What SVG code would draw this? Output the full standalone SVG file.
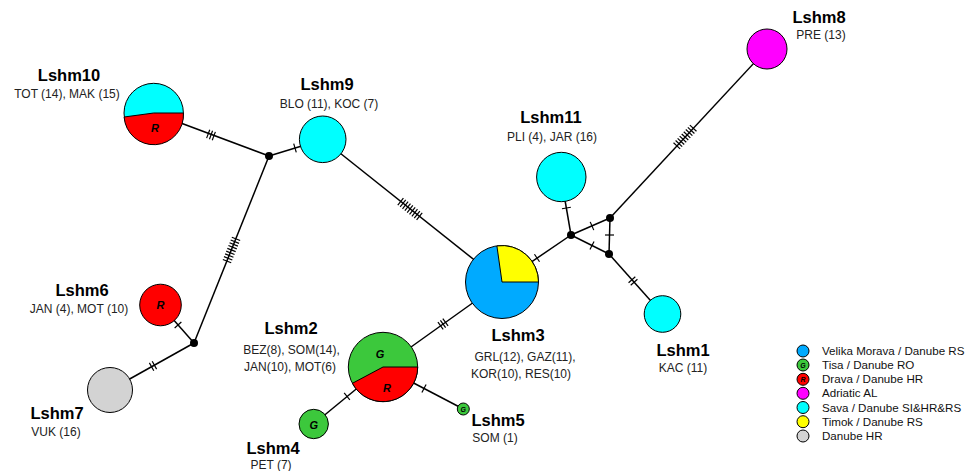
<svg xmlns="http://www.w3.org/2000/svg" width="975" height="471" viewBox="0 0 975 471">
<style>
.bg{fill:#ffffff}
.ln{stroke:#000;stroke-width:1.5;fill:none}
.hk line{stroke:#000;stroke-width:1.2}
.nd{stroke:#000;stroke-width:1}
.jn{fill:#000}
.t{font-family:"Liberation Sans",Arial,sans-serif;font-size:16.5px;font-weight:bold;fill:#000;text-anchor:middle}
.s{font-family:"Liberation Sans",Arial,sans-serif;font-size:12px;fill:#222;text-anchor:middle}
.l{font-family:"Liberation Sans",Arial,sans-serif;font-size:11.6px;fill:#111}
.k{font-family:"Liberation Sans",Arial,sans-serif;font-size:11px;font-weight:bold;font-style:italic;fill:#000;text-anchor:middle}
.ks{font-family:"Liberation Sans",Arial,sans-serif;font-size:7px;font-weight:bold;font-style:italic;fill:#000;text-anchor:middle}
.blue{fill:#00aaff}.green{fill:#3cc83c}.red{fill:#ff0000}.mag{fill:#ff00ff}.cyan{fill:#00ffff}.yel{fill:#ffff00}.gray{fill:#d3d3d3}
</style>
<defs>
<g id="h1" class="hk"><line x1="0" y1="-4.5" x2="0" y2="4.5"/></g>
<g id="h2" class="hk"><line x1="-1.6" y1="-4.5" x2="-1.6" y2="4.5"/><line x1="1.6" y1="-4.5" x2="1.6" y2="4.5"/></g>
<g id="h3" class="hk"><line x1="-3" y1="-4.5" x2="-3" y2="4.5"/><line x1="0" y1="-4.5" x2="0" y2="4.5"/><line x1="3" y1="-4.5" x2="3" y2="4.5"/></g>
<g id="h9" class="hk"><line x1="-12" y1="-4.5" x2="-12" y2="4.5"/><line x1="-9" y1="-4.5" x2="-9" y2="4.5"/><line x1="-6" y1="-4.5" x2="-6" y2="4.5"/><line x1="-3" y1="-4.5" x2="-3" y2="4.5"/><line x1="0" y1="-4.5" x2="0" y2="4.5"/><line x1="3" y1="-4.5" x2="3" y2="4.5"/><line x1="6" y1="-4.5" x2="6" y2="4.5"/><line x1="9" y1="-4.5" x2="9" y2="4.5"/><line x1="12" y1="-4.5" x2="12" y2="4.5"/></g>
</defs>
<rect class="bg" x="0" y="0" width="975" height="471"/>
<g id="connectors">
<line class="ln" x1="154" y1="113" x2="269" y2="156"/>
<use href="#h3" transform="translate(211,135) rotate(20.5)"/>
<line class="ln" x1="269" y1="156" x2="323" y2="139.5"/>
<use href="#h1" transform="translate(295,148) rotate(-16.5)"/>
<line class="ln" x1="269" y1="156" x2="194" y2="343"/>
<use href="#h9" transform="translate(231.5,250) rotate(111.9)"/>
<line class="ln" x1="323" y1="139.5" x2="502" y2="282"/>
<use href="#h9" transform="translate(410,209) rotate(38.4)"/>
<line class="ln" x1="502" y1="282" x2="571" y2="235"/>
<use href="#h1" transform="translate(537,258) rotate(-34.3)"/>
<line class="ln" x1="571" y1="235" x2="561" y2="177"/>
<use href="#h1" transform="translate(566.4,208) rotate(80.2)"/>
<line class="ln" x1="571" y1="235" x2="610" y2="218"/>
<use href="#h1" transform="translate(592,226) rotate(-23.6)"/>
<line class="ln" x1="571" y1="235" x2="609" y2="254"/>
<use href="#h1" transform="translate(592,245.5) rotate(26.6)"/>
<line class="ln" x1="610" y1="218" x2="609" y2="254"/>
<use href="#h1" transform="translate(609.5,235) rotate(90)"/>
<line class="ln" x1="609" y1="254" x2="662.5" y2="314"/>
<use href="#h2" transform="translate(633,281) rotate(48.5)"/>
<line class="ln" x1="610" y1="218" x2="767" y2="49"/>
<use href="#h9" transform="translate(685,137) rotate(-47.1)"/>
<line class="ln" x1="194" y1="343" x2="160.5" y2="305"/>
<use href="#h1" transform="translate(178,325) rotate(48.2)"/>
<line class="ln" x1="194" y1="343" x2="110" y2="390"/>
<use href="#h2" transform="translate(153,366) rotate(-29.2)"/>
<line class="ln" x1="383" y1="367" x2="502" y2="282"/>
<use href="#h3" transform="translate(443,324) rotate(-35.5)"/>
<line class="ln" x1="383" y1="367" x2="313.7" y2="424"/>
<use href="#h1" transform="translate(347,396.3) rotate(-39.2)"/>
<line class="ln" x1="383" y1="367" x2="463.3" y2="409"/>
<use href="#h1" transform="translate(424,388.5) rotate(27.7)"/>
</g>
<g id="junctions">
<circle class="jn" cx="269" cy="156" r="4"/>
<circle class="jn" cx="194" cy="343" r="4"/>
<circle class="jn" cx="571" cy="235" r="4"/>
<circle class="jn" cx="610" cy="218" r="4"/>
<circle class="jn" cx="609" cy="254" r="4"/>
</g>
<g id="Lshm10">
<circle class="nd cyan" cx="153.7" cy="113" r="29.7"/>
<path class="nd red" d="M153.7,113 L183.4,113 A29.7,29.7 0 0 1 124.1,117 Z"/>
<text class="k" x="155" y="132">R</text>
<text class="t" x="69" y="81">Lshm10</text>
<text class="s" x="67" y="98">TOT (14), MAK (15)</text>
</g>
<g id="Lshm9">
<circle class="nd cyan" cx="322.7" cy="139.3" r="23.3"/>
<text class="t" x="327" y="90">Lshm9</text>
<text class="s" x="329" y="108">BLO (11), KOC (7)</text>
</g>
<g id="Lshm11">
<circle class="nd cyan" cx="561.3" cy="177" r="24.7"/>
<text class="t" x="551" y="123">Lshm11</text>
<text class="s" x="552" y="141">PLI (4), JAR (16)</text>
</g>
<g id="Lshm8">
<circle class="nd mag" cx="767" cy="49" r="20"/>
<text class="t" x="819" y="23">Lshm8</text>
<text class="s" x="821" y="39">PRE (13)</text>
</g>
<g id="Lshm3">
<circle class="nd blue" cx="502" cy="282" r="36.5"/>
<path class="nd yel" d="M502,282 L538.5,282 A36.5,36.5 0 0 0 496.9,245.9 Z"/>
<text class="t" x="518" y="341">Lshm3</text>
<text class="s" x="525" y="361">GRL(12), GAZ(11),</text>
<text class="s" x="521" y="378">KOR(10), RES(10)</text>
</g>
<g id="Lshm1">
<circle class="nd cyan" cx="662.5" cy="314" r="18.3"/>
<text class="t" x="683" y="356">Lshm1</text>
<text class="s" x="683" y="372">KAC (11)</text>
</g>
<g id="Lshm6">
<circle class="nd red" cx="160.5" cy="305" r="20.8"/>
<text class="k" x="160.5" y="309">R</text>
<text class="t" x="82" y="296">Lshm6</text>
<text class="s" x="79" y="313">JAN (4), MOT (10)</text>
</g>
<g id="Lshm7">
<circle class="nd gray" cx="110" cy="390" r="22.5"/>
<text class="t" x="57" y="419">Lshm7</text>
<text class="s" x="56" y="436">VUK (16)</text>
</g>
<g id="Lshm2">
<circle class="nd green" cx="383" cy="367" r="34.7"/>
<path class="nd red" d="M383,367 L417.7,367 A34.7,34.7 0 0 1 352.4,383.3 Z"/>
<text class="k" x="380" y="358">G</text>
<text class="k" x="387" y="392">R</text>
<text class="t" x="291" y="334">Lshm2</text>
<text class="s" x="291.5" y="354">BEZ(8), SOM(14),</text>
<text class="s" x="290" y="371">JAN(10), MOT(6)</text>
</g>
<g id="Lshm4">
<circle class="nd green" cx="313.7" cy="424" r="14.7"/>
<text class="k" x="313.7" y="429">G</text>
<text class="t" x="273" y="454">Lshm4</text>
<text class="s" x="271" y="469">PET (7)</text>
</g>
<g id="Lshm5">
<circle class="nd green" cx="463.3" cy="409" r="6"/>
<text class="ks" x="463.3" y="411.5">G</text>
<text class="t" x="498" y="426">Lshm5</text>
<text class="s" x="495" y="442">SOM (1)</text>
</g>
<g id="legend">
<circle class="nd blue" cx="803" cy="351" r="6"/>
<text class="l" x="822" y="355">Velika Morava / Danube RS</text>
<circle class="nd green" cx="803" cy="365" r="6"/>
<text class="ks" x="803" y="367.5">G</text>
<text class="l" x="822" y="369">Tisa / Danube RO</text>
<circle class="nd red" cx="803" cy="379.3" r="6"/>
<text class="ks" x="803" y="381.8">R</text>
<text class="l" x="822" y="383.3">Drava / Danube HR</text>
<circle class="nd mag" cx="803" cy="393.3" r="6"/>
<text class="l" x="822" y="397.3">Adriatic AL</text>
<circle class="nd cyan" cx="803" cy="407.5" r="6"/>
<text class="l" x="822" y="411.5">Sava / Danube SI&amp;HR&amp;RS</text>
<circle class="nd yel" cx="803" cy="421.7" r="6"/>
<text class="l" x="822" y="425.7">Timok / Danube RS</text>
<circle class="nd gray" cx="803" cy="436" r="6"/>
<text class="l" x="822" y="440">Danube HR</text>
</g>
</svg>
